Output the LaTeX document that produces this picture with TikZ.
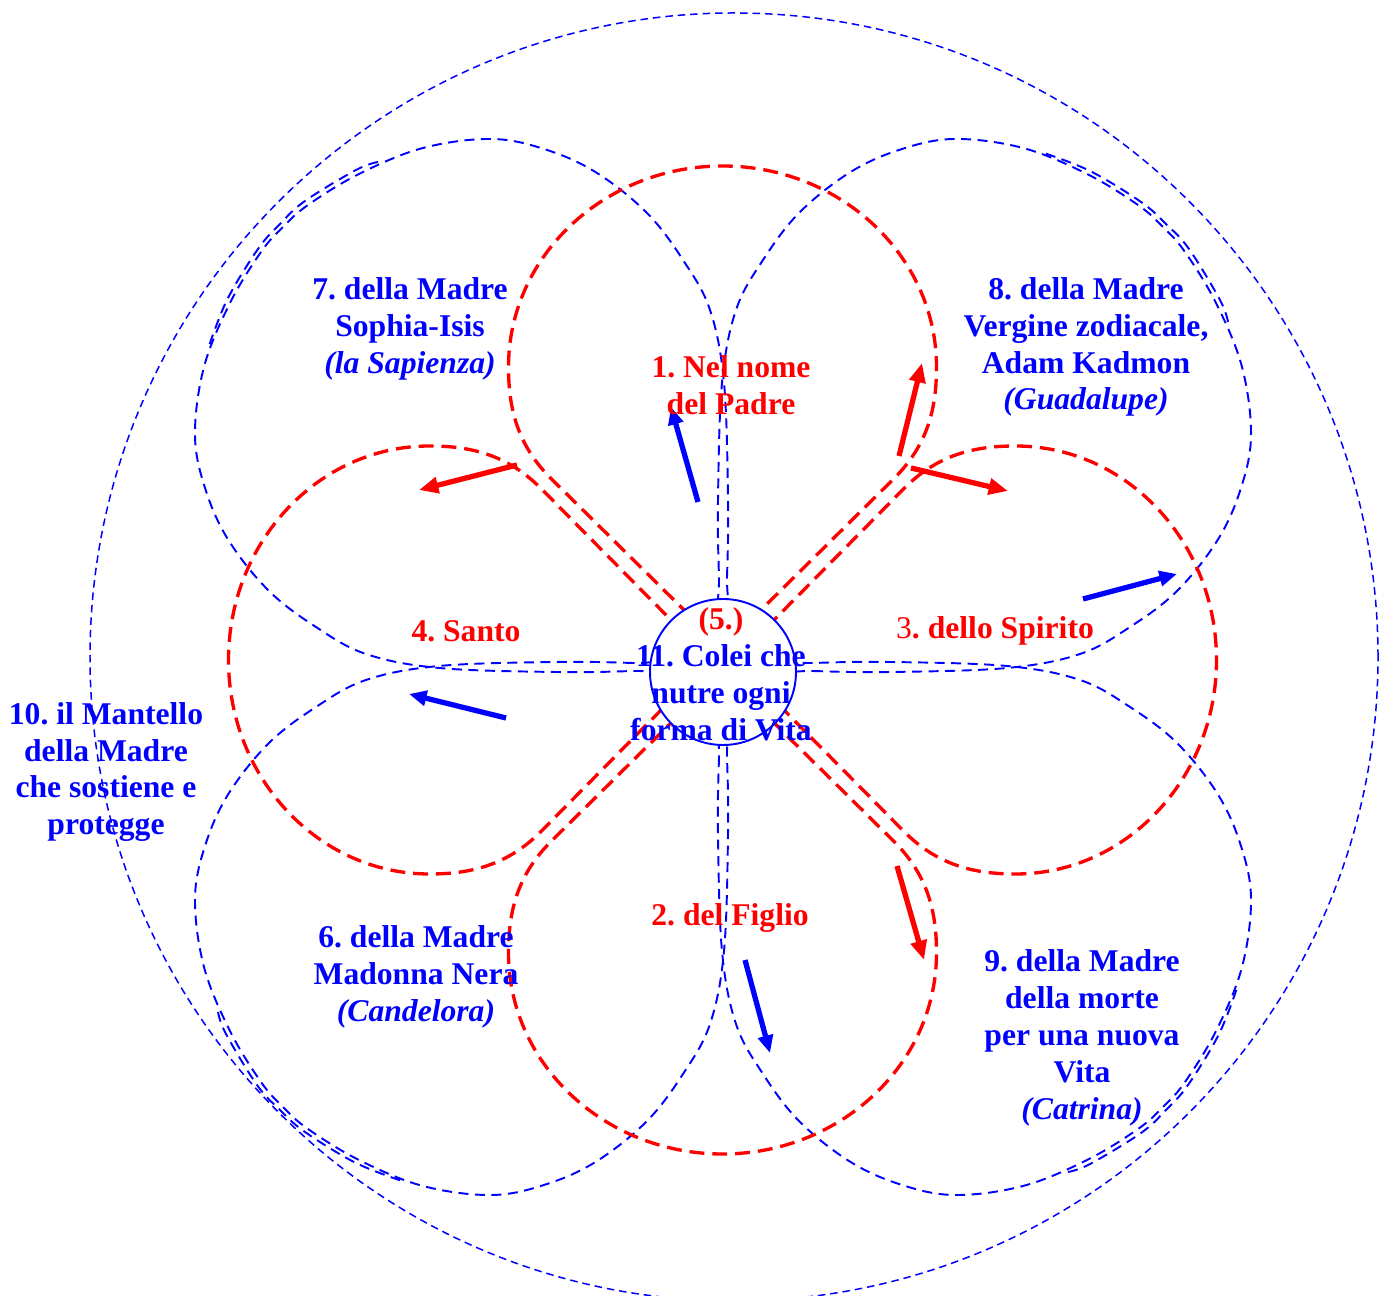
\documentclass[tikz,border=0pt]{standalone}
\usepackage{fontspec}
\setmainfont{Liberation Serif}
\usepackage{tikz}
\usetikzlibrary{arrows.meta}
\frenchspacing

\begin{document}
\begin{tikzpicture}[x=0.2mm,y=0.2mm,
                  rosso/.style={draw=red,line width=1.9pt,dash pattern=on 8.5pt off 4.5pt},
                  blu/.style={draw=blue,line width=1.1pt,dash pattern=on 5.7pt off 3.7pt},
                  mantello/.style={draw=blue,line width=0.85pt,dash pattern=on 4.3pt off 2.8pt},
                  frecciarossa/.style={-{Triangle[length=11pt,width=9pt]},draw=red,fill=red,line width=3pt},
                  frecciablu/.style={-{Triangle[length=10pt,width=8.5pt]},draw=blue,fill=blue,line width=3pt},
                  nucleo/.style={circle,draw=blue,fill=white,line width=1.1pt,minimum size=29.2mm,inner sep=0pt},
                  testo/.style={align=center,inner sep=0pt,text=blue,
                    font=\fontsize{18}{21}\selectfont\bfseries},
                  petalorosso/.pic={
                    \draw[rosso] (0,12) -- (-170,180)
                      .. controls (-206,215) and (-214,253) .. (-214,293)
                      .. controls (-214,404) and (-118,494) .. (0,494)
                      .. controls (118,494) and (214,404) .. (214,293)
                      .. controls (214,253) and (206,215) .. (170,180) -- cycle;
                  },
                  petaloblu/.pic={
                    \draw[blu] plot[smooth cycle,tension=0.6] coordinates {(0,0) (4,90) (5,167)
                      (1,284) (-13,357) (-40,407) (-76,454) (-126,494) (-176,517) (-231,528)
                      (-300,519) (-364,493) (-415,462) (-440,440) (-462,415) (-493,364)
                      (-519,300) (-528,231) (-517,176) (-494,126) (-454,76) (-407,40)
                      (-357,13) (-284,-1) (-167,-5) (-90,-4)};
                    % tratto doppio sulla punta
                    \draw[blu] plot[smooth,tension=0.6] coordinates {(-345,505) (-367,497)
                      (-418,466) (-443,443) (-465,418) (-496,367) (-515,318)};
                  }
                  ]
                  \useasboundingbox (0,0) rectangle (1389,1295);
                  \coordinate (Or) at (722.5,635);
                  \coordinate (Ob) at (723,628);
                  % mantello
                  \draw[mantello] (734,638) circle [radius=644];
                  % petali blu: 7, 6, 9, 8
                  \pic at (Ob) {petaloblu};
                  \pic[rotate=90] at (Ob) {petaloblu};
                  \pic[rotate=180] at (Ob) {petaloblu};
                  \pic[rotate=-90] at (Ob) {petaloblu};
                  % petali rossi: 1, 4, 2, 3
                  \pic at (Or) {petalorosso};
                  \pic[rotate=90] at (Or) {petalorosso};
                  \pic[rotate=180] at (Or) {petalorosso};
                  \pic[rotate=-90] at (Or) {petalorosso};
                  % frecce
                  \coordinate (r1a) at (517,830);  \coordinate (r1b) at (419,805);
                  \coordinate (r2a) at (899,839);  \coordinate (r2b) at (922,932);
                  \coordinate (r3a) at (911,827);  \coordinate (r3b) at (1008,804);
                  \coordinate (r4a) at (897,429);  \coordinate (r4b) at (924,335);
                  \coordinate (b1a) at (698,793);  \coordinate (b1b) at (671,888);
                  \coordinate (b2a) at (1083,696); \coordinate (b2b) at (1177,721);
                  \coordinate (b3a) at (506,577);  \coordinate (b3b) at (409,601);
                  \coordinate (b4a) at (745,335);  \coordinate (b4b) at (770,242);
                  \draw[frecciarossa] (r1a) -- (r1b);
                  \draw[frecciarossa] (r2a) -- (r2b);
                  \draw[frecciarossa] (r3a) -- (r3b);
                  \draw[frecciarossa] (r4a) -- (r4b);
                  \draw[frecciablu] (b1a) -- (b1b);
                  \draw[frecciablu] (b2a) -- (b2b);
                  \draw[frecciablu] (b3a) -- (b3b);
                  \draw[frecciablu] (b4a) -- (b4b);
                  % centro
                  \node[nucleo] (nucleo) at (723,623) {};
                  \node[testo] (colei) at (721,621)
                    {\textcolor{red}{(5.)}\\11. Colei che\\nutre ogni\\forma di Vita};
                  % testi
                  \node[testo,text=red] (padre) at (731,910) {1. Nel nome\\del Padre};
                  \node[testo,text=red] (figlio) at (730,377) {2. del Figlio};
                  \node[testo,text=red] (spirito) at (995,664) {{\mdseries 3}. dello Spirito};
                  \node[testo,text=red] (santo) at (466,664) {4. Santo};
                  \node[testo] (sophia) at (410,966)
                    {7. della Madre\\Sophia-Isis\\\textit{(la Sapienza)}};
                  \node[testo] (guadalupe) at (1086,948)
                    {8. della Madre\\Vergine zodiacale,\\Adam Kadmon\\\textit{(Guadalupe)}};
                  \node[testo] (candelora) at (416,318)
                    {6. della Madre\\Madonna Nera\\\textit{(Candelora)}};
                  \node[testo] (catrina) at (1082,257)
                    {9. della Madre\\della morte\\per una nuova\\Vita\\\textit{(Catrina)}};
                  \node[testo] (manto) at (106,523)
                    {10. il Mantello\\della Madre\\che sostiene e\\protegge};
                \end{tikzpicture}
\end{document}
